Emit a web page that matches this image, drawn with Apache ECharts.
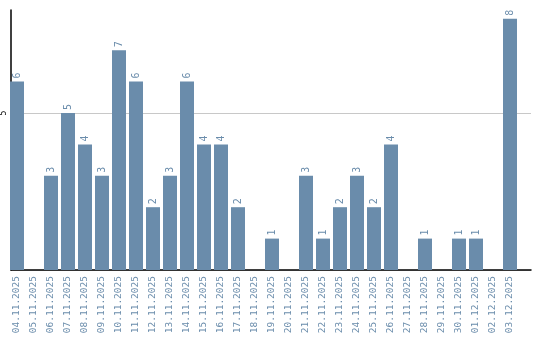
<!DOCTYPE html>
<html><head><meta charset="utf-8">
<script src="https://cdn.jsdelivr.net/npm/echarts@6/dist/echarts.min.js"></script>
<style>html,body{margin:0;padding:0;background:#fff}#c{width:540px;height:340px}</style>
</head><body><div id="c"></div>
<script>
const categories = ['04.11.2025','05.11.2025','06.11.2025','07.11.2025','08.11.2025','09.11.2025','10.11.2025','11.11.2025','12.11.2025','13.11.2025','14.11.2025','15.11.2025','16.11.2025','17.11.2025','18.11.2025','19.11.2025','20.11.2025','21.11.2025','22.11.2025','23.11.2025','24.11.2025','25.11.2025','26.11.2025','27.11.2025','28.11.2025','29.11.2025','30.11.2025','01.12.2025','02.12.2025','03.12.2025'];
const values = [6,0,3,5,4,3,7,6,2,3,6,4,4,2,0,1,0,3,1,2,3,2,4,0,1,0,1,1,0,8];
const yTicks = [5];

const barColor = '#6a8cab';
const yMax = 8.28;
const chart = echarts.init(document.getElementById('c'), null, {renderer:'canvas'});
chart.setOption({
  animation: false,
  grid: [
    {left: 10, right: 9, top: 10, bottom: 70, containLabel: false},
    {left: 8.5, width: 510, top: 10, bottom: 70, containLabel: false}
  ],
  xAxis: [
    {type: 'value', gridIndex: 0, min: 0, max: 1, axisLine: {show: true, onZero: false, lineStyle: {color: '#000', width: 1.5}},
     axisTick: {show: false}, axisLabel: {show: false}, splitLine: {show: false}},
    {type: 'category', gridIndex: 1, data: categories,
     axisLine: {show: false}, axisTick: {show: false},
     axisLabel: {rotate: 90, interval: 0, margin: 6, color: barColor, fontFamily: 'DejaVu Sans Mono, monospace', fontSize: 9.5}}
  ],
  yAxis: [
    {type: 'value', gridIndex: 0, min: 0, max: yMax, interval: 5,
     axisLine: {show: true, lineStyle: {color: '#000', width: 1.5}}, axisTick: {show: false},
     axisLabel: {margin: 3, rotate: 90, fontSize: 8, color: '#000', fontFamily: 'DejaVu Sans Mono, monospace',
       showMaxLabel: false, formatter: v => yTicks.includes(v) ? String(v) : ''},
     splitLine: {show: true, lineStyle: {color: ['#c8c8c8', '#c8c8c8', 'rgba(0,0,0,0)'], width: 1}}},
    {type: 'value', gridIndex: 1, min: 0, max: yMax, interval: 5, show: false, splitLine: {show: false}}
  ],
  series: [{
    type: 'bar', xAxisIndex: 1, yAxisIndex: 1, data: values, barWidth: 14,
    itemStyle: {color: barColor},
    label: {show: true, position: 'top', rotate: 90, align: 'left', verticalAlign: 'middle', distance: 3,
      color: barColor, fontSize: 10, fontFamily: 'DejaVu Sans Mono, monospace',
      formatter: p => p.value > 0 ? String(p.value) : ''}
  }]
});
</script></body></html>
